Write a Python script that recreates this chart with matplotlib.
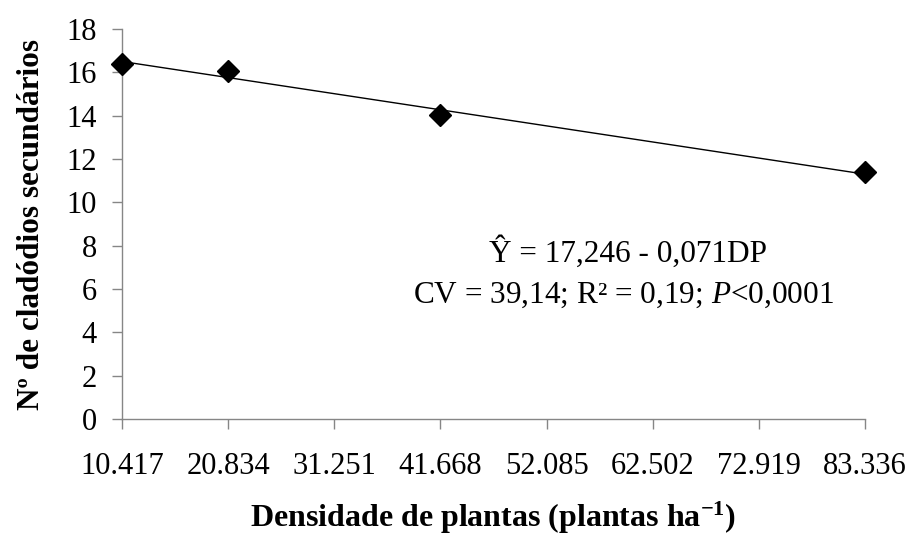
import matplotlib.pyplot as plt

plt.rcParams['font.family'] = ['Liberation Serif', 'DejaVu Serif']
plt.rcParams['mathtext.fontset'] = 'custom'
plt.rcParams['mathtext.rm'] = 'Liberation Serif'
plt.rcParams['mathtext.it'] = 'Liberation Serif:italic'
plt.rcParams['mathtext.bf'] = 'Liberation Serif:bold'

# data
x_ticks = [10.417, 20.834, 31.251, 41.668, 52.085, 62.502, 72.919, 83.336]
x_labels = ['10.417', '20.834', '31.251', '41.668', '52.085', '62.502', '72.919', '83.336']
dens = [10.417, 20.834, 41.668, 83.336]
cladodios = [16.4, 16.05, 14.05, 11.39]
trend_x = [10.417, 83.336]
trend_y = [16.5, 11.3]
y_ticks = [0, 2, 4, 6, 8, 10, 12, 14, 16, 18]

fig = plt.figure(figsize=(9.14, 5.37), dpi=100)
ax = fig.add_axes([0.1335, 0.2197, 0.8129, 0.7263])

ax.plot(trend_x, trend_y, color='black', lw=1.0, zorder=2)
ax.plot(dens, cladodios, linestyle='none', marker='D', markersize=11,
        color='black', zorder=3, clip_on=False)

ax.set_xlim(x_ticks[0], x_ticks[-1])
ax.set_ylim(0, 18)
ax.set_xticks(x_ticks)
ax.set_xticklabels(x_labels)
ax.set_yticks(y_ticks)

for s in ['top', 'right']:
    ax.spines[s].set_visible(False)
for s in ['left', 'bottom']:
    ax.spines[s].set_color('#868686')
    ax.spines[s].set_linewidth(1.0)

ax.tick_params(axis='both', direction='out', length=7, width=1.0,
               color='#868686', labelsize=22, labelcolor='black')
ax.tick_params(axis='x', pad=17)
ax.tick_params(axis='y', pad=11)

ax.set_xlabel('Densidade de plantas (plantas ha$^{\\mathbf{-1}}$)',
              fontsize=23, fontweight='bold', labelpad=13)
ax.set_ylabel('Nº de cladódios secundários', fontsize=22.5, fontweight='bold',
              labelpad=15)

fig.text(0.687, 0.512, 'Ŷ = 17,246 - 0,071DP',
         ha='center', va='baseline', fontsize=22.5)
fig.text(0.682, 0.436, 'CV = 39,14; R² = 0,19; $\\mathit{P}$<0,0001',
         ha='center', va='baseline', fontsize=22.5)

fig.savefig('out.png', dpi=100)
